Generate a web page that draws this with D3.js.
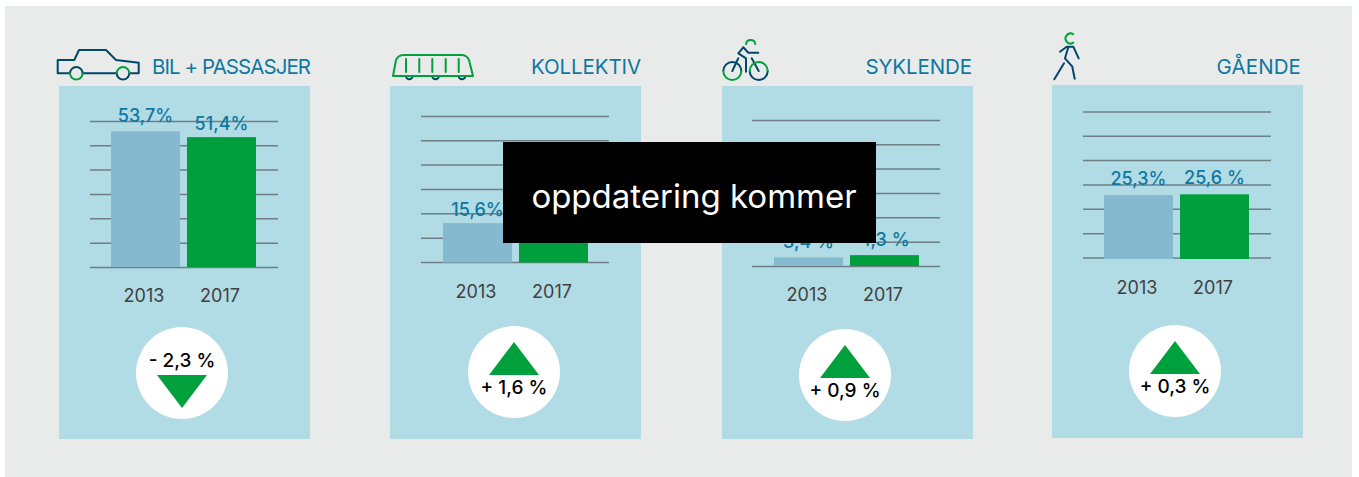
<!DOCTYPE html>
<html>
<head>
<meta charset="utf-8">
<script src="https://cdn.jsdelivr.net/npm/d3@7"></script>
<style>
  html, body { margin: 0; padding: 0; background: #fff; }
  svg { display: block; }
  text { font-family: Inter, "Noto Sans", sans-serif; }
</style>
</head>
<body>
<div id="chart"></div>
<script>
// The data
const years = ['2013', '2017'];
const categories = ['BIL + PASSASJER', 'KOLLEKTIV', 'SYKLENDE', 'GÅENDE'];
const values2013 = [53.7, 15.6, 3.4, 25.3];
const values2017 = [51.4, 17.2, 4.3, 25.6];
const labels2013 = ['53,7%', '15,6%', '3,4 %', '25,3%'];
// The kollektiv 2017 label sits fully behind the black box, so it stays empty
const labels2017 = ['51,4%', '', '4,3 %', '25,6 %'];
const changes = ['- 2,3 %', '+ 1,6 %', '+ 0,9 %', '+ 0,3 %'];
const directions = ['down', 'up', 'up', 'up'];
const gridValues = [0, 9.6, 19.3, 28.9, 38.6, 48.2, 57.8];

// The layout of each panel
const panelX = [59, 390, 722, 1052];
const panelY = [86, 86, 86, 85];
const baseY = [267, 262, 266, 257.5];
const gridX = [90, 421, 752, 1083];
const barX = [111, 443, 774, 1104];
const barShift = [0, 0.5, 0, 1.5];
const titleRight = [310, 641, 972, 1301];
const titleSpacing = [-0.95, -0.1, -0.1, 0.1];
const yearY = [303, 299, 302, 295];
const circleX = [182, 514, 845, 1175];
const circleY = [373, 372, 375, 371];
const gaps2013 = [9, 7, 9, 9];
const gaps2017 = [7, 7, 9, 9];

const width = 1359, height = 477;
const panelW = 251, panelH = 353, gridW = 188, gridH = 146;

const green = '#00a03c', dark = '#00476b', blue = '#0f78a1';

const svg = d3.select('#chart').append('svg')
  .attr('width', width)
  .attr('height', height);

svg.append('rect')
  .attr('x', 5).attr('y', 6)
  .attr('width', 1347).attr('height', 471)
  .attr('fill', '#e9ebea');

const y = d3.scaleLinear().domain([0, 57.8]).range([gridH, 0]);

// Draws each panel
categories.forEach((category, i) => {
  const x = d3.scaleBand()
    .domain(years)
    .range([barX[i], barX[i] + 145])
    .paddingInner(0.092);

  const rows = [
    { year: years[0], value: values2013[i], label: labels2013[i], gap: gaps2013[i], color: '#85b9cf' },
    { year: years[1], value: values2017[i], label: labels2017[i], gap: gaps2017[i], color: '#009f3d' },
  ];

  svg.append('rect')
    .attr('x', panelX[i]).attr('y', panelY[i])
    .attr('width', panelW).attr('height', panelH)
    .attr('fill', '#b1dbe5');

  svg.append('text')
    .attr('x', titleRight[i]).attr('y', 74)
    .attr('text-anchor', 'end')
    .attr('font-size', 20.5)
    .attr('letter-spacing', titleSpacing[i])
    .attr('fill', blue)
    .text(category);

  const plot = svg.append('g')
    .attr('transform', `translate(0, ${baseY[i] - gridH})`);

  // The gridlines
  const grid = plot.append('g')
    .attr('transform', `translate(${gridX[i]}, 0)`)
    .call(d3.axisLeft(y).tickValues(gridValues).tickSize(-gridW).tickFormat(''));
  grid.select('.domain').remove();
  grid.selectAll('line')
    .attr('stroke', '#6f7f86')
    .attr('stroke-width', 1.3);

  // The bars
  plot.selectAll('.bar')
    .data(rows)
    .join('rect')
      .attr('x', d => x(d.year))
      .attr('y', d => y(d.value) + barShift[i])
      .attr('width', x.bandwidth())
      .attr('height', d => y(0) - y(d.value))
      .attr('fill', d => d.color);

  plot.selectAll('.value')
    .data(rows.filter(d => d.label))
    .join('text')
      .attr('x', d => x(d.year) + x.bandwidth() / 2)
      .attr('y', d => y(d.value) - d.gap)
      .attr('text-anchor', 'middle')
      .attr('font-size', 18)
      .attr('font-weight', 500)
      .attr('fill', blue)
      .text(d => d.label);

  // The year labels
  const axis = svg.append('g')
    .attr('transform', `translate(-1.5, ${yearY[i] - 14})`)
    .call(d3.axisBottom(x).tickSize(0).tickPadding(0));
  axis.select('.domain').remove();
  axis.selectAll('text')
    .attr('font-size', 18)
    .attr('fill', '#404040')
    .attr('style', 'font-family: Inter, "Noto Sans", sans-serif');

  // The change badge
  const badge = svg.append('g')
    .attr('transform', `translate(${circleX[i]}, ${circleY[i]})`);
  badge.append('circle').attr('r', 46).attr('fill', '#fff');

  const isDown = directions[i] == 'down';
  badge.append('path')
    .attr('d', isDown ? 'M-25,2 L25,2 L0,35 Z' : 'M-25,3 L25,3 L0,-30 Z')
    .attr('fill', green);
  badge.append('text')
    .attr('y', isDown ? -6 : 22)
    .attr('text-anchor', 'middle')
    .attr('font-size', 19)
    .attr('font-weight', 500)
    .attr('fill', '#000')
    .text(changes[i]);
});

// The icons
function stroke(paths, color) {
  svg.append('g')
    .attr('fill', 'none')
    .attr('stroke', color)
    .attr('stroke-width', 2)
    .attr('stroke-linecap', 'round')
    .attr('stroke-linejoin', 'round')
    .selectAll('path')
    .data(paths)
    .join('path')
      .attr('d', d => d);
}

// Car
stroke([
  'M70,73.3 L57.7,73.3 L57.7,60 L74.3,60 L79,50 L106,50 L116,60 L138.7,62.7 L138.7,73.3 L129.3,73.3',
  'M116.7,73.3 L82.6,73.3',
  'M70,73.3 A6.3,6.3 0 0 1 82.6,73.3',
  'M116.7,73.3 A6.3,6.3 0 0 0 129.3,73.3',
], dark);
stroke([
  'M70,73.3 A6.3,6.3 0 0 0 82.6,73.3',
  'M116.7,73.3 A6.3,6.3 0 0 1 129.3,73.3',
], green);

// Tram
stroke([
  'M406,76 A3.3,3.3 0 0 0 412.6,76',
  'M432.3,76 A3.3,3.3 0 0 0 438.9,76',
  'M458.7,76 A3.3,3.3 0 0 0 465.3,76',
], dark);
stroke([
  'M393,76 L396,60 Q398,55 404,55 L461,55 Q467,55 469,60 L473,76 Z',
  'M406,59 L406,72', 'M419.3,59 L419.3,72', 'M432.3,59 L432.3,72',
  'M445.7,59 L445.7,72', 'M458.7,59 L458.7,72',
], green);

// Bike
stroke([
  'M723.3,71 A9,9 0 0 1 741.3,71',
  'M749.7,71 A9,9 0 0 0 767.7,71',
  'M732.3,71 L738.3,58.3',
  'M758.7,71 L751.7,58.3',
  'M758.3,52.7 L748.3,52.7 L743.3,47.3 L738.3,53.3 L746,58.3 L746,71.7',
], dark);
stroke([
  'M723.3,71 A9,9 0 0 0 741.3,71',
  'M749.7,71 A9,9 0 0 1 767.7,71',
  'M746,44 A4.7,4.7 0 0 1 755.3,44',
], green);

// Walker
stroke([
  'M1060,51.7 L1066.7,46.7 L1073.3,46.7 L1078.7,58.3',
  'M1068.3,47.3 L1065,58.3 L1072.3,66.7 L1074.7,78.7',
  'M1064,63.3 L1054.3,79.3',
], dark);
stroke([
  'M1073.3,34.3 A5,5 0 1 0 1073.3,42.7',
], green);

// The overlay
svg.append('rect')
  .attr('x', 503).attr('y', 142)
  .attr('width', 373).attr('height', 101)
  .attr('fill', '#000');
svg.append('text')
  .attr('x', 694).attr('y', 208)
  .attr('text-anchor', 'middle')
  .attr('font-size', 33)
  .attr('fill', '#fff')
  .text('oppdatering kommer');
</script>
</body>
</html>
